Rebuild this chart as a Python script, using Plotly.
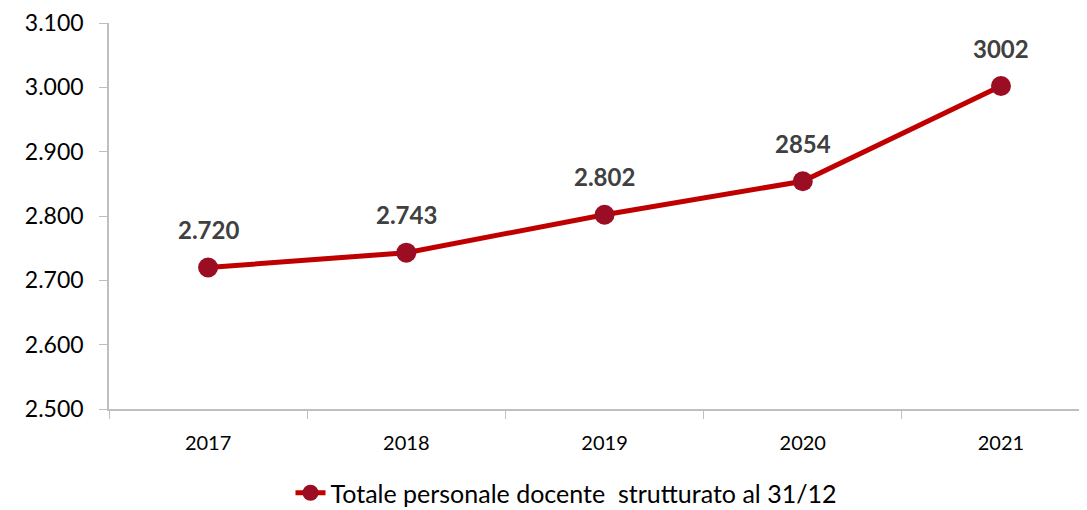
import plotly.graph_objects as go

years = ["2017", "2018", "2019", "2020", "2021"]
values = [2720, 2743, 2802, 2854, 3002]
labels = ["2.720", "2.743", "2.802", "2854", "3002"]
series_name = "Totale personale docente  strutturato al 31/12"

FONT = "Lato, sans-serif"

fig = go.Figure()
fig.add_trace(go.Scatter(
    x=years, y=values, mode="lines+markers", name=series_name,
    line=dict(color="#C00000", width=5),
    marker=dict(color="#9B0D23", size=20),
))

for i, (v, lab) in enumerate(zip(values, labels)):
    fig.add_annotation(x=i, y=v, xref="x", yref="y", text="<b>" + lab + "</b>",
                       showarrow=False, yshift=38,
                       font=dict(family=FONT, size=24, color="#404040"))

fig.update_layout(
    width=1087, height=510,
    margin=dict(l=101, r=8, t=15, b=109, autoexpand=False),
    paper_bgcolor="white", plot_bgcolor="white",
    separators=",.",
    font=dict(family=FONT, size=20, color="#000000"),
    showlegend=True,
    legend=dict(orientation="h", x=(566 - 8) / 1087, xanchor="center", xref="container",
                y=(510 - 485) / 510, yanchor="middle", yref="container",
                font=dict(family=FONT, size=25, color="#000000")),
)
fig.update_xaxes(
    type="category", range=[-0.5, 4.434], automargin=False,
    showline=True, linecolor="#BFBFBF", linewidth=1.5,
    ticks="outside", tickson="boundaries", ticklen=8, tickcolor="#BFBFBF",
    showgrid=False, ticklabelstandoff=15,
    tickfont=dict(family=FONT, size=20, color="#000000"),
)
fig.update_yaxes(
    range=[2500, 3100], tick0=2500, dtick=100, tickformat=",.0f", automargin=False,
    showline=True, linecolor="#BFBFBF", linewidth=1.5,
    ticks="outside", ticklen=8, tickcolor="#BFBFBF",
    showgrid=False, zeroline=False, ticklabelstandoff=11,
    tickfont=dict(family=FONT, size=23, color="#000000"),
)

fig.write_html("out.html")
